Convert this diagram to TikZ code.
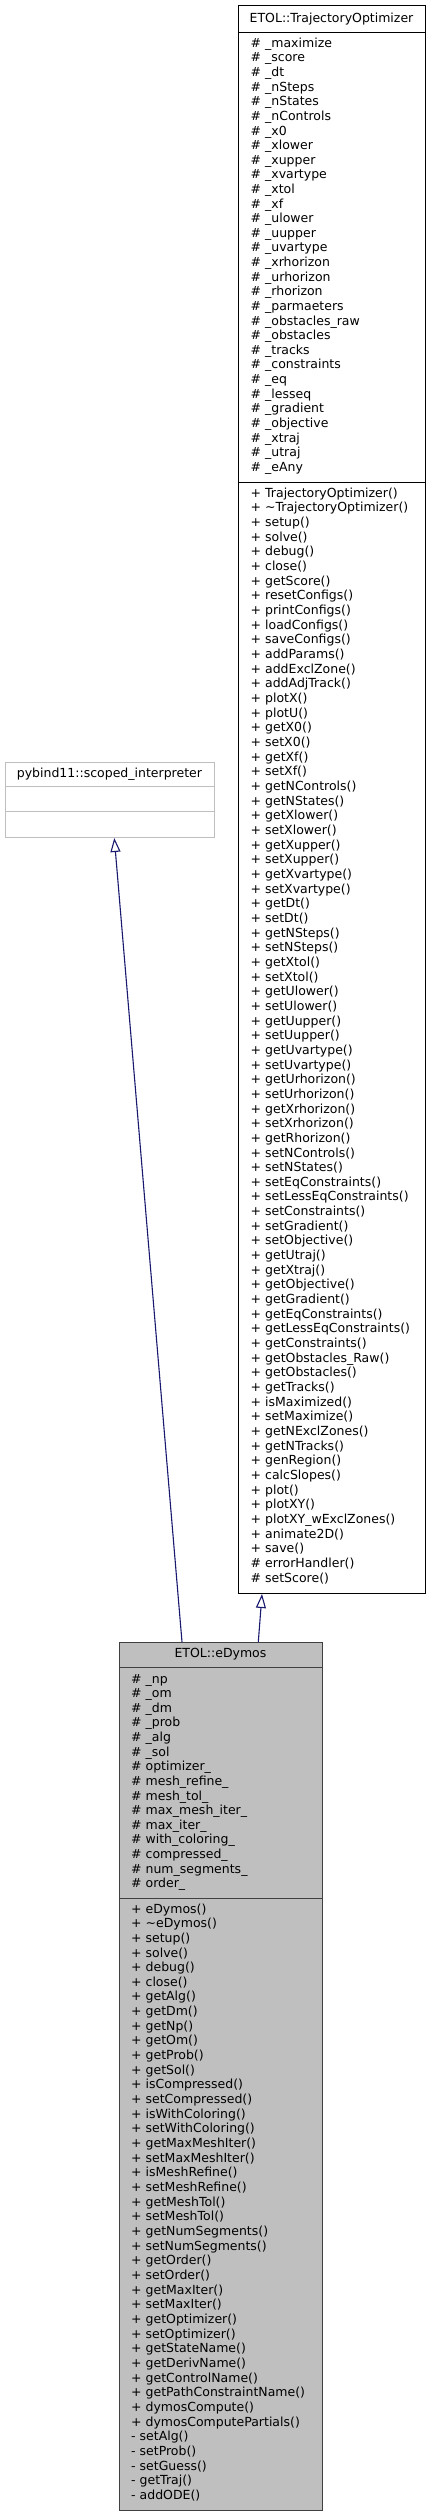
\documentclass[tikz,border=0pt]{standalone}
\usepackage{fontspec}
\setmainfont{DejaVu Sans}
\usetikzlibrary{arrows.meta,calc}
\definecolor{edgeblue}{HTML}{191970}
\definecolor{greyfill}{HTML}{BFBFBF}
\begin{document}
\begin{tikzpicture}[x=1pt,y=-1pt,
  classbox/.style={draw=black, line width=1pt, rectangle, inner sep=0pt, anchor=north west},
  txt/.style={font=\fontsize{12.5}{14}\selectfont, inner sep=0pt, anchor=base west},
  hdr/.style={font=\fontsize{12.5}{14}\selectfont, inner sep=0pt, anchor=base},
  sepline/.style={line width=1pt},
  inh/.style={draw=edgeblue, line width=1.1pt, -{Triangle[open, length=14pt, width=10pt]}}]
\useasboundingbox[fill=white] (0,0) rectangle (431,2516);

% ---------- ETOL::TrajectoryOptimizer ----------
\node[classbox, minimum width=187pt, minimum height=1588pt] (to) at (238,5) {};
\draw[sepline] (238,32) -- (425,32);
\draw[sepline] (238,482) -- (425,482);
\node[hdr] (to-h) at (331.5,22) {ETOL::TrajectoryOptimizer};
\foreach \lbl [count=\i from 0] in {\# \_maximize, \# \_score, \# \_dt, \# \_nSteps, \# \_nStates, \# \_nControls, \# \_x0, \# \_xlower, \# \_xupper, \# \_xvartype, \# \_xtol, \# \_xf, \# \_ulower, \# \_uupper, \# \_uvartype, \# \_xrhorizon, \# \_urhorizon, \# \_rhorizon, \# \_parmaeters, \# \_obstacles\_raw, \# \_obstacles, \# \_tracks, \# \_constraints, \# \_eq, \# \_lesseq, \# \_gradient, \# \_objective, \# \_xtraj, \# \_utraj, \# \_eAny}
  \node[txt] (to-a\i) at (250.5,{47.3+\i*14.62}) {\lbl};
\foreach \lbl [count=\i from 0] in {+ TrajectoryOptimizer(), + \textasciitilde TrajectoryOptimizer(), + setup(), + solve(), + debug(), + close(), + getScore(), + resetConfigs(), + printConfigs(), + loadConfigs(), + saveConfigs(), + addParams(), + addExclZone(), + addAdjTrack(), + plotX(), + plotU(), + getX0(), + setX0(), + getXf(), + setXf(), + getNControls(), + getNStates(), + getXlower(), + setXlower(), + getXupper(), + setXupper(), + getXvartype(), + setXvartype(), + getDt(), + setDt(), + getNSteps(), + setNSteps(), + getXtol(), + setXtol(), + getUlower(), + setUlower(), + getUupper(), + setUupper(), + getUvartype(), + setUvartype(), + getUrhorizon(), + setUrhorizon(), + getXrhorizon(), + setXrhorizon(), + getRhorizon(), + setNControls(), + setNStates(), + setEqConstraints(), + setLessEqConstraints(), + setConstraints(), + setGradient(), + setObjective(), + getUtraj(), + getXtraj(), + getObjective(), + getGradient(), + getEqConstraints(), + getLessEqConstraints(), + getConstraints(), + getObstacles\_Raw(), + getObstacles(), + getTracks(), + isMaximized(), + setMaximize(), + getNExclZones(), + getNTracks(), + genRegion(), + calcSlopes(), + plot(), + plotXY(), + plotXY\_wExclZones(), + animate2D(), + save(), \# errorHandler(), \# setScore()}
  \node[txt] (to-m\i) at (250.5,{497.3+\i*14.66}) {\lbl};

% ---------- pybind11::scoped_interpreter ----------
\node[classbox, draw=greyfill, minimum width=209.3pt, minimum height=75.3pt] (pb) at (4.7,761.7) {};
\draw[sepline, greyfill] (4.7,786.7) -- (214,786.7);
\draw[sepline, greyfill] (4.7,811.7) -- (214,811.7);
\node[hdr] (pb-h) at (109.4,777.5) {pybind11::scoped\_interpreter};

% ---------- ETOL::eDymos ----------
\node[classbox, fill=greyfill, draw=black!75, minimum width=203pt, minimum height=868pt] (ed) at (119,1642) {};
\draw[sepline, black!75] (119,1667) -- (322,1667);
\draw[sepline, black!75] (119,1898) -- (322,1898);
\node[hdr] (ed-h) at (220.5,1657.5) {ETOL::eDymos};
\foreach \lbl [count=\i from 0] in {\# \_np, \# \_om, \# \_dm, \# \_prob, \# \_alg, \# \_sol, \# optimizer\_, \# mesh\_refine\_, \# mesh\_tol\_, \# max\_mesh\_iter\_, \# max\_iter\_, \# with\_coloring\_, \# compressed\_, \# num\_segments\_, \# order\_}
  \node[txt] (ed-a\i) at (131,{1683+\i*14.63}) {\lbl};
\foreach \lbl [count=\i from 0] in {+ eDymos(), + \textasciitilde eDymos(), + setup(), + solve(), + debug(), + close(), + getAlg(), + getDm(), + getNp(), + getOm(), + getProb(), + getSol(), + isCompressed(), + setCompressed(), + isWithColoring(), + setWithColoring(), + getMaxMeshIter(), + setMaxMeshIter(), + isMeshRefine(), + setMeshRefine(), + getMeshTol(), + setMeshTol(), + getNumSegments(), + setNumSegments(), + getOrder(), + setOrder(), + getMaxIter(), + setMaxIter(), + getOptimizer(), + setOptimizer(), + getStateName(), + getDerivName(), + getControlName(), + getPathConstraintName(), + dymosCompute(), + dymosComputePartials(), - setAlg(), - setProb(), - setGuess(), - getTraj(), - addODE()}
  \node[txt] (ed-m\i) at (131,{1913+\i*14.66}) {\lbl};

% ---------- inheritance connectors ----------
\coordinate (ed-p) at ($(ed.north west)+(63pt,0)$);
\coordinate (ed-t) at ($(ed.north west)+(139.3pt,0)$);
\coordinate (pb-b) at ($(pb.south west)+(109.6pt,0)$);
\coordinate (to-b) at ($(to.south west)+(24pt,0)$);
\draw[inh] (ed-p) -- (pb-b);
\draw[inh] (ed-t) -- (to-b);
\end{tikzpicture}
\end{document}
